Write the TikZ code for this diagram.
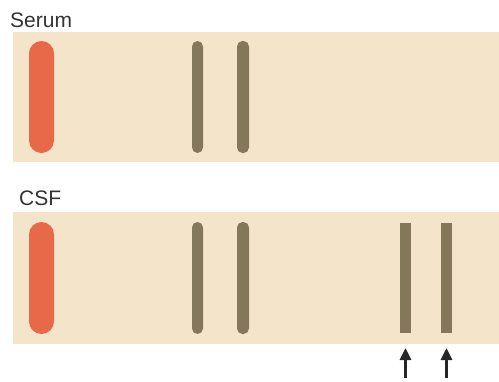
\documentclass[tikz,border=0pt]{standalone}
\usepackage{fontspec}
\setmainfont{Liberation Sans}
\usetikzlibrary{arrows.meta}
\definecolor{strip}{HTML}{F4E4C9}
\definecolor{origin}{HTML}{E8694A}
\definecolor{band}{HTML}{857759}
\definecolor{labeltext}{HTML}{333333}
\tikzset{
  lane/.style={fill=strip, draw=none},
  spot/.style={fill=origin, draw=none, rounded corners=12.5pt},
  oband/.style={fill=band, draw=none, rounded corners=5.5pt},
  sharpband/.style={fill=band, draw=none},
  lanelabel/.style={anchor=base west, inner sep=0pt, text=labeltext, font=\fontsize{21}{24}\selectfont},
  marker/.style={line width=2.8pt, -{Triangle[length=12pt,width=11pt]}, draw=black!85}
}
\begin{document}
\begin{tikzpicture}[x=1pt,y=-1pt]
  \useasboundingbox (0,0) rectangle (499,381);

  % Serum lane
  \node[lanelabel] (serumlabel) at (10,27) {Serum};
  \fill[lane] (13,32) rectangle (499,162);
  \fill[spot] (29,41) rectangle (54,153);
  \fill[oband] (192,41) rectangle (203,153);
  \fill[oband] (237,41) rectangle (249,153);

  % CSF lane
  \node[lanelabel] (csflabel) at (19,205) {CSF};
  \fill[lane] (13,212) rectangle (499,344);
  \fill[spot] (29,222) rectangle (54,334);
  \fill[oband] (192,222) rectangle (203,334);
  \fill[oband] (237,222) rectangle (249,334);
  \fill[sharpband] (400,223) rectangle (411,333);
  \fill[sharpband] (441,223) rectangle (452,333);

  % markers under the CSF-only bands
  \coordinate (a1s) at (405.5,378);
  \coordinate (a1e) at (405.5,348);
  \coordinate (a2s) at (446.5,378);
  \coordinate (a2e) at (446.5,348);
  \draw[marker] (a1s) -- (a1e);
  \draw[marker] (a2s) -- (a2e);
\end{tikzpicture}
\end{document}
